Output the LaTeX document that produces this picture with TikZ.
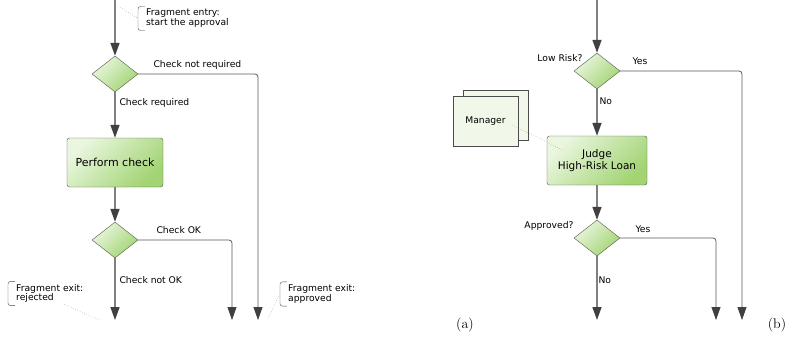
\documentclass[tikz,border=0pt]{standalone}
\usepackage{fontspec}
\setsansfont{DejaVu Sans}
\usepackage{xcolor}
\usetikzlibrary{arrows.meta,shapes.geometric}

\definecolor{leaf}{HTML}{A2D473}
\definecolor{leafmid}{HTML}{BFE29D}
\definecolor{leaflight}{HTML}{EAF6DF}
\definecolor{paper}{HTML}{F1F8E9}
\definecolor{edge}{HTML}{505A4A}

\tikzset{
    every node/.style={font=\sffamily\fontsize{9.2}{9.5}\selectfont},
    decision/.style={diamond, draw=edge, thin, minimum width=46pt, minimum height=36pt, inner sep=0pt,
        top color=leaflight, middle color=leafmid, bottom color=leaf, shading angle=45},
    task/.style={rectangle, rounded corners=2.5pt, draw=edge, thin, align=center,
        top color=leaflight, middle color=leafmid, bottom color=leaf, shading angle=45, font=\sffamily\fontsize{10.5}{11.5}\selectfont},
    flow/.style={draw=black!50, line width=1.6pt, -{Triangle[width=9pt,length=13pt,color=black!75]}},
    side/.style={draw=black!65, line width=0.8pt, rounded corners=3pt, -{Triangle[width=9pt,length=13pt,color=black!75]}},
    fragment/.style={anchor=west, align=left, inner xsep=8pt, inner ysep=2.5pt, font=\sffamily\fontsize{9.2}{8.8}\selectfont},
    bracket/.style={draw=black!70, thin, rounded corners=2.5pt},
    note/.style={draw=black!55, dotted, thin},
    role/.style={rectangle, draw=black!70, thin, fill=paper, minimum width=65pt, minimum height=50pt}
}
\newcommand\notebracket[1]{\draw[bracket] ([xshift=7pt]#1.north west) -- (#1.north west) -- (#1.south west) -- ([xshift=7pt]#1.south west);}

\begin{document}
\begin{tikzpicture}[x=1pt, y=-1pt]
    \useasboundingbox (0,0) rectangle (792,345);

    % (a) check fragment
    \coordinate (inA) at (115,0);
    \node[decision] (needA) at (115,74) {};
    \node[task, minimum width=96pt, minimum height=49pt, font=\sffamily\fontsize{11}{12}\selectfont] (check) at (115,162.5) {Perform check};
    \node[decision] (okA) at (115,240) {};
    \coordinate (rejA) at (115,320);
    \coordinate (passA) at (232,320);
    \coordinate (skipA) at (258,320);

    \draw[flow] (inA) -- (needA);
    \draw[flow] (needA) -- (check);
    \draw[flow] (check) -- (okA);
    \draw[flow] (okA) -- (rejA);
    \draw[side] (needA.east) -| (skipA);
    \draw[side] (okA.east) -| (passA);

    \node[anchor=west] (notreqA) at (150,65) {Check not required};
    \node[anchor=west] (reqA) at (116,103) {Check required};
    \node[anchor=west] (okLblA) at (153,230) {Check OK};
    \node[anchor=west] (notokA) at (116,280) {Check not OK};

    \node[fragment] (entry) at (138,18.5) {Fragment entry:\\start the approval};
    \node[fragment] (rejected) at (8,293.5) {Fragment exit:\\rejected};
    \node[fragment] (approved) at (280,294) {Fragment exit:\\approved};
    \notebracket{entry}
    \notebracket{rejected}
    \notebracket{approved}
    \coordinate (entryP) at (118,6);
    \coordinate (rejP) at (100,320);
    \coordinate (appP) at (268,318);
    \draw[note] (entryP) -- (entry.west);
    \draw[note] (rejP) -- (63,304);
    \draw[note] (appP) -- (approved.west);

    \node[font=\fontsize{14}{16}\selectfont] (capA) at (465,325) {(a)};

    % (b) high-risk loan
    \coordinate (inB) at (597,0);
    \node[decision] (riskB) at (597,71) {};
    \node[task, minimum width=100pt, minimum height=49pt] (judge) at (597,160.5) {Judge\\High-Risk Loan};
    \node[decision] (apprB) at (597,238) {};
    \coordinate (noB) at (597,320);
    \coordinate (yesB) at (716,320);
    \coordinate (lowB) at (742,320);

    \draw[flow] (inB) -- (riskB);
    \draw[flow] (riskB) -- (judge);
    \draw[flow] (judge) -- (apprB);
    \draw[flow] (apprB) -- (noB);
    \draw[side] (riskB.east) -| (lowB);
    \draw[side] (apprB.east) -| (yesB);

    \node[anchor=east] (lowLbl) at (586,58) {Low Risk?};
    \node[anchor=west] (yesLow) at (629,61) {Yes};
    \node[anchor=west] (noLow) at (596,101) {No};
    \node[anchor=east] (apprLbl) at (577,226) {Approved?};
    \node[anchor=west] (yesAppr) at (632,229) {Yes};
    \node[anchor=west] (noAppr) at (595,280) {No};

    \node[role] (mgrBack) at (495.5,115) {};
    \node[role] (mgr) at (485.5,121) {Manager};
    \coordinate (mgrP) at (563,150);
    \draw[note] ([xshift=-6pt,yshift=-4pt]mgr.east) -- (mgrP);

    \node[font=\fontsize{14}{16}\selectfont] (capB) at (777,325) {(b)};
\end{tikzpicture}
\end{document}
